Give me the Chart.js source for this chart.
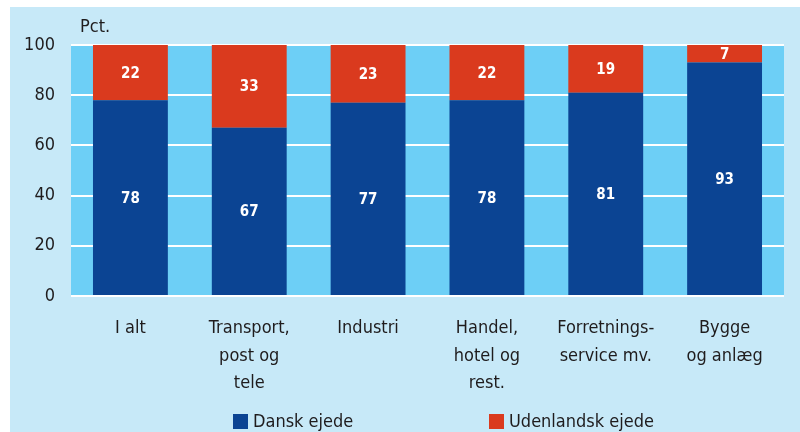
<!DOCTYPE html>
<html>
<head>
<meta charset="utf-8">
<script src="https://cdn.jsdelivr.net/npm/chart.js@4/dist/chart.umd.min.js"></script>
<style>
  html, body { margin: 0; padding: 0; background: #ffffff; }
  #wrap { width: 800px; height: 432px; position: relative; }
</style>
</head>
<body>
<div id="wrap"><canvas id="c" width="800" height="432"></canvas></div>
<script>
const categories = [["I alt"], ["Transport,", "post og", "tele"], ["Industri"], ["Handel,", "hotel og", "rest."], ["Forretnings-", "service mv."], ["Bygge", "og anlæg"]];
const danskEjede = [78, 67, 77, 78, 81, 93];
const udenlandskEjede = [22, 33, 23, 22, 19, 7];
const seriesNames = ["Dansk ejede", "Udenlandsk ejede"];
const yTicks = [0, 20, 40, 60, 80, 100];

const FONT = "'DejaVu Sans Condensed', 'Liberation Sans Narrow', 'Liberation Sans', sans-serif";
const TEXT = '#1f1c1d';
const BLUE = '#0b4493';
const RED = '#da3a1e';
const PLOT_BG = '#6dcff6';
const PANEL_BG = '#c7e9f8';

const bgPlugin = {
  id: 'bg',
  beforeDraw(chart) {
    const ctx = chart.ctx, a = chart.chartArea;
    ctx.save();
    ctx.fillStyle = PANEL_BG;
    ctx.fillRect(10, 7, chart.width - 10, chart.height - 7);
    ctx.fillStyle = PLOT_BG;
    ctx.fillRect(a.left, a.top - 1, a.right - a.left, a.bottom - a.top + 2);
    ctx.restore();
  }
};

const labelPlugin = {
  id: 'labels',
  afterDatasetsDraw(chart) {
    const ctx = chart.ctx;
    ctx.save();
    ctx.font = "bold 15px " + FONT;
    ctx.fillStyle = '#ffffff';
    ctx.textAlign = 'center';
    ctx.textBaseline = 'middle';
    chart.data.datasets.forEach((ds, di) => {
      const meta = chart.getDatasetMeta(di);
      meta.data.forEach((bar, i) => {
        const p = bar.getProps(['x', 'y', 'base'], true);
        ctx.fillText(String(ds.data[i]), p.x, (p.y + p.base) / 2 + 1);
      });
    });
    // Pct. unit label
    ctx.font = "18px " + FONT;
    ctx.fillStyle = TEXT;
    ctx.textAlign = 'left';
    ctx.fillText('Pct.', 80, 27);
    // Legend
    const legendX = [233, 489];
    chart.data.datasets.forEach((ds, di) => {
      const x = legendX[di];
      ctx.fillStyle = ds.backgroundColor;
      ctx.fillRect(x, 414, 15, 15);
      ctx.fillStyle = TEXT;
      ctx.textAlign = 'left';
      ctx.fillText(ds.label, x + 20, 422);
    });
    ctx.restore();
  }
};

new Chart(document.getElementById('c'), {
  type: 'bar',
  data: {
    labels: categories,
    datasets: [
      { label: seriesNames[0], data: danskEjede, backgroundColor: BLUE, barPercentage: 0.63, categoryPercentage: 1.0 },
      { label: seriesNames[1], data: udenlandskEjede, backgroundColor: RED, barPercentage: 0.63, categoryPercentage: 1.0 }
    ]
  },
  options: {
    responsive: false,
    animation: false,
    layout: { padding: { left: 10, right: 16, top: 45, bottom: 0 } },
    plugins: { legend: { display: false }, tooltip: { enabled: false } },
    scales: {
      x: {
        stacked: true,
        grid: { display: false },
        border: { display: false },
        ticks: { color: TEXT, font: { family: FONT, size: 18, lineHeight: 1.55 }, padding: 10, maxRotation: 0, autoSkip: false },
        afterFit(scale) { scale.height = 136; }
      },
      y: {
        stacked: true,
        min: 0, max: 100,
        afterBuildTicks(scale) { scale.ticks = yTicks.map(v => ({ value: v })); },
        grid: { color: '#ffffff', lineWidth: 2, drawTicks: false },
        border: { display: false },
        ticks: { color: TEXT, font: { family: FONT, size: 18 }, padding: 16 },
        afterFit(scale) { scale.width = 61; }
      }
    }
  },
  plugins: [bgPlugin, labelPlugin]
});
</script>
</body>
</html>
